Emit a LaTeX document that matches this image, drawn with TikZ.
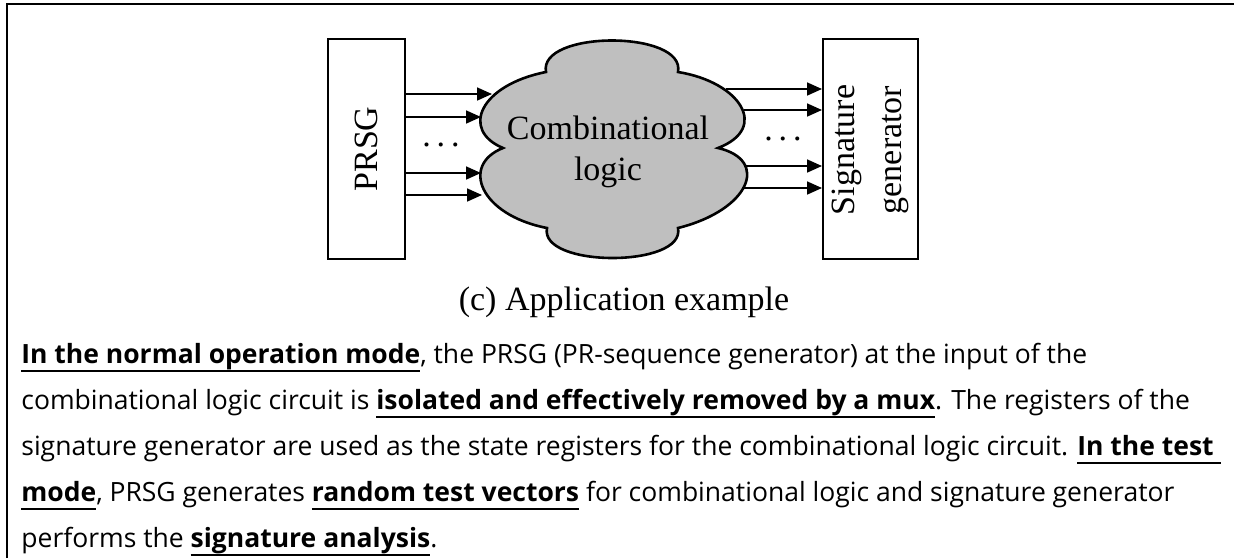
\documentclass[tikz,border=0pt]{standalone}
\usepackage{fontspec}
\setmainfont{Liberation Serif}
\newfontfamily\bodyfont{Open Sans}
\usetikzlibrary{arrows.meta}

% bold text with a rule at a fixed depth below the baseline
\newcommand\uln[1]{\setbox0\hbox{\bfseries #1}\rlap{\rule[-4.5pt]{\wd0}{1pt}}\box0\relax}

\tikzset{
  frame/.style={line width=1pt},
  blockbox/.style={draw, line width=1pt, inner sep=0pt},
  cloudshape/.style={draw, line width=1.3pt, fill=black!25},
  sig/.style={line width=0.85pt, -{Triangle[length=7.5pt,width=6.5pt]}},
  dia/.style={font=\fontsize{17}{20.5}\selectfont},
  body/.style={anchor=base west, inner sep=0pt, font=\bodyfont\fontsize{13.25}{15}\selectfont},
}

\begin{document}
\begin{tikzpicture}[x=0.5pt, y=-0.5pt]
\useasboundingbox (0,0) rectangle (1234,558);

% outer frame (left and top edges)
\draw[frame] (7,558) -- (7,4) -- (1234,4);

% blocks
\node[blockbox, minimum width=38.5pt, minimum height=110pt] (prsg) at (366.5,149) {};
\node[dia, rotate=90] (prsgtxt) at (prsg.center) {PRSG};
\node[blockbox, minimum width=47.5pt, minimum height=110pt] (sg) at (870.5,149) {};
\node[font=\fontsize{17}{23.5}\selectfont, rotate=90, align=center] (sgtxt) at (870.5,150) {Signature\\generator};

% combinational logic cloud
\draw[cloudshape] (503,148) .. controls (460,130) and (480,85) .. (546,72)
  .. controls (538,30) and (686,30) .. (678,72)
  .. controls (740,82) and (770,128) .. (718,148)
  .. controls (770,160) and (750,210) .. (678,228)
  .. controls (686,268) and (539,268) .. (547,228)
  .. controls (480,215) and (460,165) .. cycle;
\node[dia, align=center] (logic) at (608,152) {Combinational\\logic};

% cloud inputs and outputs
\coordinate (in1) at (492,94);
\coordinate (in2) at (481,117);
\coordinate (in3) at (481,173);
\coordinate (in4) at (482,195);
\coordinate (out1) at (726,89);
\coordinate (out2) at (744,110);
\coordinate (out3) at (744,166);
\coordinate (out4) at (742,188);
\foreach \c in {in1,in2,in3,in4}
  \draw[sig] (prsg.east |- \c) -- (\c);
\foreach \c in {out1,out2,out3,out4}
  \draw[sig] (\c) -- (sg.west |- \c);
\node[dia, anchor=base, inner sep=0pt] (dotsl) at (441,146) {.\kern3pt.\kern3pt.};
\node[dia, anchor=base, inner sep=0pt] (dotsr) at (783,140) {.\kern3pt.\kern3pt.};

% caption
\node[dia, anchor=base, inner sep=0pt] (cap) at (624,310) {(c) Application example};

% description
\node[body] (l1) at (21,363) {\uln{In the normal operation mode}, the PRSG (PR-sequence generator) at the input of the};
\node[body] (l2) at (21,409) {combinational logic circuit is \uln{isolated and effectively removed by a mux}. The registers of the};
\node[body] (l3) at (21,455) {signature generator are used as the state registers for the combinational logic circuit. \uln{In the test\ }};
\node[body] (l4) at (21,501) {\uln{mode}, PRSG generates \uln{random test vectors} for combinational logic and signature generator};
\node[body] (l5) at (21,547) {performs the \uln{signature analysis}.};
\end{tikzpicture}
\end{document}
